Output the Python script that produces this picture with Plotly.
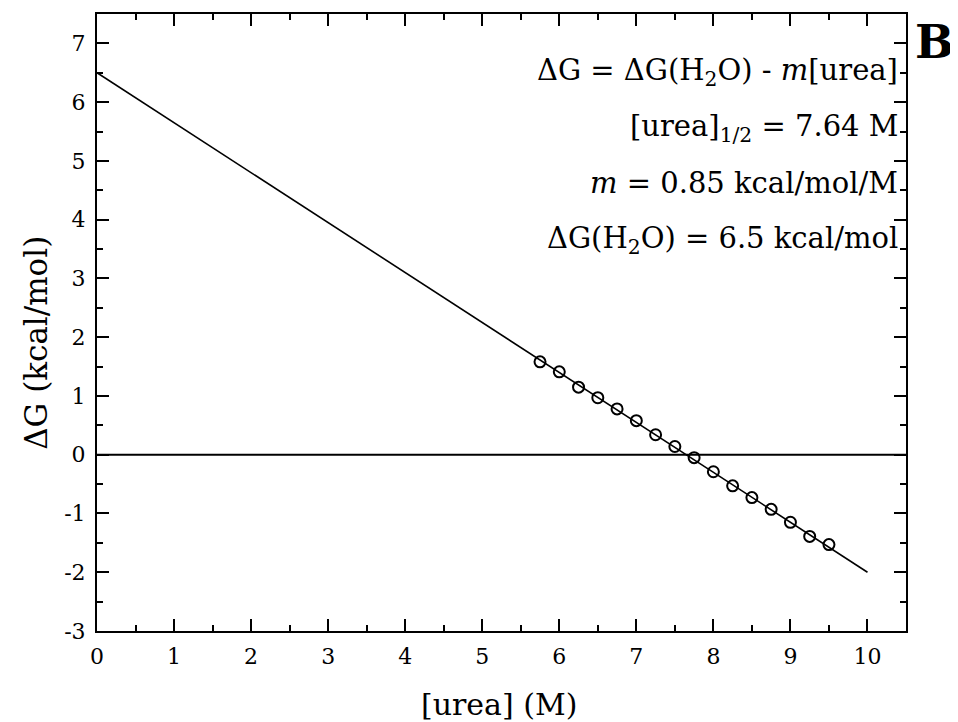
import plotly.graph_objects as go

urea = [5.75, 6.0, 6.25, 6.5, 6.75, 7.0, 7.25, 7.5, 7.75, 8.0, 8.25, 8.5, 8.75, 9.0, 9.25, 9.5]
dG = [1.58, 1.41, 1.15, 0.97, 0.78, 0.58, 0.34, 0.14, -0.05, -0.29, -0.53, -0.73, -0.93, -1.15, -1.39, -1.53]

fit_x = [0, 10]
fit_y = [6.5, -2.0]
zero_x = [0, 10.5]
zero_y = [0, 0]

xtick_vals = [0, 1, 2, 3, 4, 5, 6, 7, 8, 9, 10]
xtick_text = ["0", "1", "2", "3", "4", "5", "6", "7", "8", "9", "10"]
ytick_vals = [-3, -2, -1, 0, 1, 2, 3, 4, 5, 6, 7]
ytick_text = ["-3", "-2", "-1", "0", "1", "2", "3", "4", "5", "6", "7"]

annotation_lines = [
    "ΔG = ΔG(H<sub>2</sub>O) - <i>m</i>[urea]",
    "[urea]<sub>1/2</sub> = 7.64 M",
    "<i>m</i> = 0.85 kcal/mol/M",
    "ΔG(H<sub>2</sub>O) = 6.5 kcal/mol",
]
annotation_y = [6.52, 5.56, 4.62, 3.66]

x_title = "[urea] (M)"
y_title = "ΔG (kcal/mol)"
panel_label = "B"

FONT = "DejaVu Serif"

fig = go.Figure()
fig.add_trace(go.Scatter(x=zero_x, y=zero_y, mode="lines",
                         line=dict(color="black", width=2), showlegend=False, hoverinfo="skip"))
fig.add_trace(go.Scatter(x=fit_x, y=fit_y, mode="lines",
                         line=dict(color="black", width=1.6), showlegend=False))
fig.add_trace(go.Scatter(x=urea, y=dG, mode="markers",
                         marker=dict(symbol="circle-open", size=11, color="black",
                                     line=dict(color="black", width=2)),
                         showlegend=False))

for txt, yy in zip(annotation_lines, annotation_y):
    fig.add_annotation(x=0.99, xref="paper", xshift=2, y=yy, yref="y", text=txt,
                       showarrow=False, xanchor="right", yanchor="middle",
                       font=dict(family=FONT, size=29, color="black"))

fig.add_annotation(x=1.009, xref="paper", y=0.955, yref="paper", text="<b>" + panel_label + "</b>",
                   showarrow=False, xanchor="left", yanchor="middle",
                   font=dict(family=FONT, size=46, color="black"))

fig.add_annotation(x=0.497, xref="paper", y=0, yref="paper", yshift=-73, text=x_title,
                   showarrow=False, xanchor="center", yanchor="middle",
                   font=dict(family=FONT, size=30, color="black"))
fig.add_annotation(x=0, xref="paper", xshift=-61, y=0.467, yref="paper", text=y_title,
                   textangle=-90, showarrow=False, xanchor="center", yanchor="middle",
                   font=dict(family=FONT, size=31, color="black"))

axis_common = dict(
    showgrid=False, zeroline=False, showline=True, linecolor="black", linewidth=2,
    ticks="inside", ticklen=12, tickwidth=2, tickcolor="black", mirror="allticks",
    tickfont=dict(family=FONT, size=22, color="black"),
)

fig.update_xaxes(range=[0, 10.5], tickvals=xtick_vals, ticktext=xtick_text,
                 minor=dict(dtick=0.5, tick0=0, ticks="inside", ticklen=6, tickwidth=2, tickcolor="black"),
                 ticklabelstandoff=5, **axis_common)
fig.update_yaxes(range=[-3, 7.5], tickvals=ytick_vals, ticktext=ytick_text,
                 minor=dict(dtick=0.5, tick0=0, ticks="inside", ticklen=6, tickwidth=2, tickcolor="black"),
                 ticklabelstandoff=5, **axis_common)

fig.update_layout(width=950, height=714, margin=dict(l=89, r=52, t=4, b=91),
                  plot_bgcolor="white", paper_bgcolor="white",
                  font=dict(family=FONT, color="black"))

fig.write_html("out.html")
